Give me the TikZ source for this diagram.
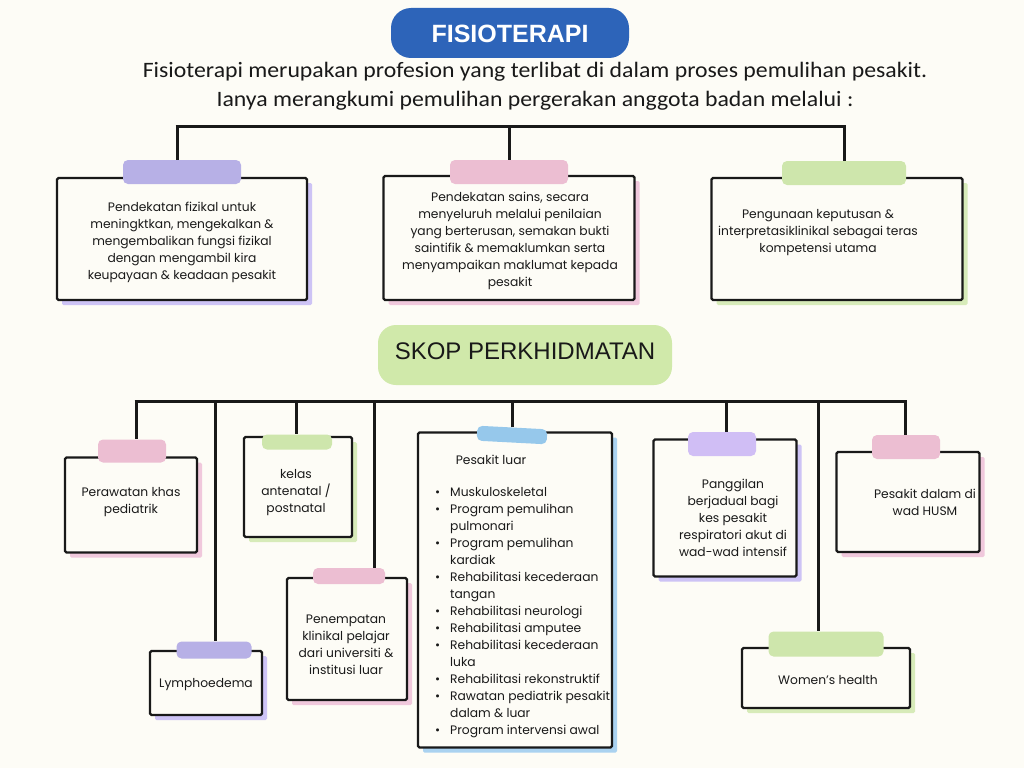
\documentclass[tikz,border=0pt]{standalone}
\usepackage{fontspec}
\setmainfont{Poppins}
\newfontfamily\descfont{Carlito}
\newfontfamily\headfont{Liberation Sans}
\usetikzlibrary{shadows}
\definecolor{bg}{RGB}{253,252,246}
\definecolor{ink}{RGB}{25,25,25}
\definecolor{titleblue}{RGB}{45,100,185}
\definecolor{skopgreen}{RGB}{208,233,170}
\definecolor{tpurple}{RGB}{183,176,230}
\definecolor{tlilac}{RGB}{208,190,245}
\definecolor{tpink}{RGB}{236,190,210}
\definecolor{tgreen}{RGB}{206,230,172}
\definecolor{tblue}{RGB}{150,200,235}
\definecolor{spurple}{RGB}{205,195,245}
\definecolor{spink}{RGB}{240,200,220}
\definecolor{sgreen}{RGB}{215,235,185}
\definecolor{sblue}{RGB}{170,210,240}
\newcommand{\cardfont}{\fontsize{12.3}{17}\selectfont}
\newcommand{\bul}{\makebox[15pt][l]{\textbullet}}
\newcommand{\nob}{\hspace*{15pt}}
\tikzset{
  card/.style={draw=ink, line width=2.4pt, fill=bg, inner sep=0pt, rounded corners=1.5pt,
    drop shadow={shadow xshift=5pt, shadow yshift=-5pt, fill=#1, opacity=1}},
  tape/.style={fill=#1, rounded corners=5pt, inner sep=0pt},
  conn/.style={draw=ink, line width=3pt},
  txt/.style={align=center, font=\cardfont, text=ink, inner sep=0pt}
}
\begin{document}
\begin{tikzpicture}[x=1pt,y=-1pt]
\useasboundingbox[fill=bg] (0,0) rectangle (1024,768);

% title
\node[fill=titleblue, rounded corners=20pt, minimum width=238pt, minimum height=50pt, inner sep=0pt] (title) at (510,33) {};
\node[text=white, font=\headfont\bfseries\fontsize{25}{30}\selectfont] (titletext) at (510,34) {FISIOTERAPI};
\node[font=\descfont\fontsize{22}{26}\selectfont, text=ink] (desc1) at (535,72) {\scalebox{1.08}[1]{Fisioterapi merupakan profesion yang terlibat di dalam proses pemulihan pesakit.}};
\node[font=\descfont\fontsize{22}{26}\selectfont, text=ink] (desc2) at (535,101) {\scalebox{1.08}[1]{Ianya merangkumi pemulihan pergerakan anggota badan melalui :}};

% top cards
\node[card=spurple, minimum width=250pt, minimum height=122pt] (boxA) at (182,239) {};
\node[card=spink, minimum width=251pt, minimum height=124pt] (boxB) at (509,238) {};
\node[card=sgreen, minimum width=251pt, minimum height=122pt] (boxC) at (837,239) {};
\node[tape=tpurple, minimum width=118pt, minimum height=24pt] (tapeA) at (182,172) {};
\node[tape=tpink, minimum width=118pt, minimum height=24pt] (tapeB) at (509,172) {};
\node[tape=tgreen, minimum width=124pt, minimum height=24pt] (tapeC) at (844,173) {};
\node[txt] (txtA) at (182,242) {Pendekatan fizikal untuk\\meningktkan, mengekalkan \&\\mengembalikan fungsi fizikal\\dengan mengambil kira\\keupayaan \& keadaan pesakit};
\node[txt] (txtB) at (510,241) {Pendekatan sains, secara\\menyeluruh melalui penilaian\\yang berterusan, semakan bukti\\saintifik \& memaklumkan serta\\menyampaikan maklumat kepada\\pesakit};
\node[txt] (txtC) at (818,233) {Pengunaan keputusan \&\\interpretasiklinikal sebagai teras\\kompetensi utama};

% top bracket
\coordinate (topL) at (177,126);
\coordinate (topM) at (509,126);
\coordinate (topR) at (844,126);
\draw[conn] ([xshift=-1.5pt]topL) -- ([xshift=1.5pt]topR);
\draw[conn] (topL) -- (topL |- tapeA.north);
\draw[conn] (topM) -- (topM |- tapeB.north);
\draw[conn] (topR) -- (topR |- tapeC.north);

% skop
\node[fill=skopgreen, rounded corners=18pt, minimum width=294pt, minimum height=60pt, inner sep=0pt] (skop) at (525,355) {};
\node[font=\headfont\fontsize{24}{28}\selectfont, text=ink] (skoptext) at (525,351) {SKOP PERKHIDMATAN};

% bottom cards
\node[card=spink, minimum width=132pt, minimum height=95pt] (b1) at (131,505) {};
\node[card=sgreen, minimum width=108pt, minimum height=100pt] (b2) at (298,487) {};
\node[card=spurple, minimum width=112pt, minimum height=64pt] (b3) at (206,683) {};
\node[card=spink, minimum width=120pt, minimum height=122pt] (b4) at (347,639) {};
\node[card=sblue, minimum width=194pt, minimum height=315pt] (b5) at (515,590) {};
\node[card=spurple, minimum width=143pt, minimum height=137pt] (b6) at (725,508) {};
\node[card=spink, minimum width=143pt, minimum height=100pt] (b7) at (908,502) {};
\node[card=sgreen, minimum width=168pt, minimum height=60pt] (b8) at (826,678) {};

\node[tape=tpink, minimum width=68pt, minimum height=23pt] (t1) at (132,451) {};
\node[tape=tgreen, minimum width=70pt, minimum height=15pt] (t2) at (297,442) {};
\node[tape=tpurple, minimum width=75pt, minimum height=17pt] (t3) at (214,650) {};
\node[tape=tpink, minimum width=72pt, minimum height=16pt] (t4) at (349,576) {};
\node[tape=tblue, minimum width=70pt, minimum height=15pt, rotate=-3] (t5) at (512,435) {};
\node[tape=tlilac, minimum width=68pt, minimum height=24pt] (t6) at (722,444) {};
\node[tape=tpink, minimum width=68pt, minimum height=24pt] (t7) at (906,447) {};
\node[tape=tgreen, minimum width=115pt, minimum height=25pt] (t8) at (826,644) {};

\node[txt] (x1) at (131,502) {Perawatan khas\\pediatrik};
\node[txt] (x2) at (296,493) {kelas\\antenatal /\\postnatal};
\node[txt] (x3) at (206,685) {Lymphoedema};
\node[txt] (x4) at (346,645) {Penempatan\\klinikal pelajar\\dari universiti \&\\institusi luar};
\node[txt] (x5) at (491,460) {Pesakit luar};
\node[align=left, font=\cardfont, text=ink, inner sep=0pt, anchor=north west] (x5list) at (435,487) {%
\bul Muskuloskeletal\\
\bul Program pemulihan\\
\nob pulmonari\\
\bul Program pemulihan\\
\nob kardiak\\
\bul Rehabilitasi kecederaan\\
\nob tangan\\
\bul Rehabilitasi neurologi\\
\bul Rehabilitasi amputee\\
\bul Rehabilitasi kecederaan\\
\nob luka\\
\bul Rehabilitasi rekonstruktif\\
\bul Rawatan pediatrik pesakit\\
\nob dalam \& luar\\
\bul Program intervensi awal};
\node[txt] (x6) at (733,518) {Panggilan\\berjadual bagi\\kes pesakit\\respiratori akut di\\wad-wad intensif};
\node[txt] (x7) at (925,502) {Pesakit dalam di\\wad HUSM};
\node[txt] (x8) at (828,680) {Women's health};

% bottom bracket
\coordinate (d1) at (136,401);
\coordinate (d3) at (215,401);
\coordinate (d2) at (296,401);
\coordinate (d4) at (374,401);
\coordinate (d5) at (512,401);
\coordinate (d6) at (726,401);
\coordinate (d8) at (818,401);
\coordinate (d7) at (905,401);
\draw[conn] ([xshift=-1.5pt]d1) -- ([xshift=1.5pt]d7);
\draw[conn] (d1) -- (d1 |- t1.north);
\draw[conn] (d2) -- (d2 |- t2.north);
\draw[conn] (d3) -- (d3 |- t3.north);
\draw[conn] (d4) -- (d4 |- t4.north);
\draw[conn] (d5) -- (d5 |- t5.north);
\draw[conn] (d6) -- (d6 |- t6.north);
\draw[conn] (d7) -- (d7 |- t7.north);
\draw[conn] (d8) -- (d8 |- t8.north);
\end{tikzpicture}
\end{document}
